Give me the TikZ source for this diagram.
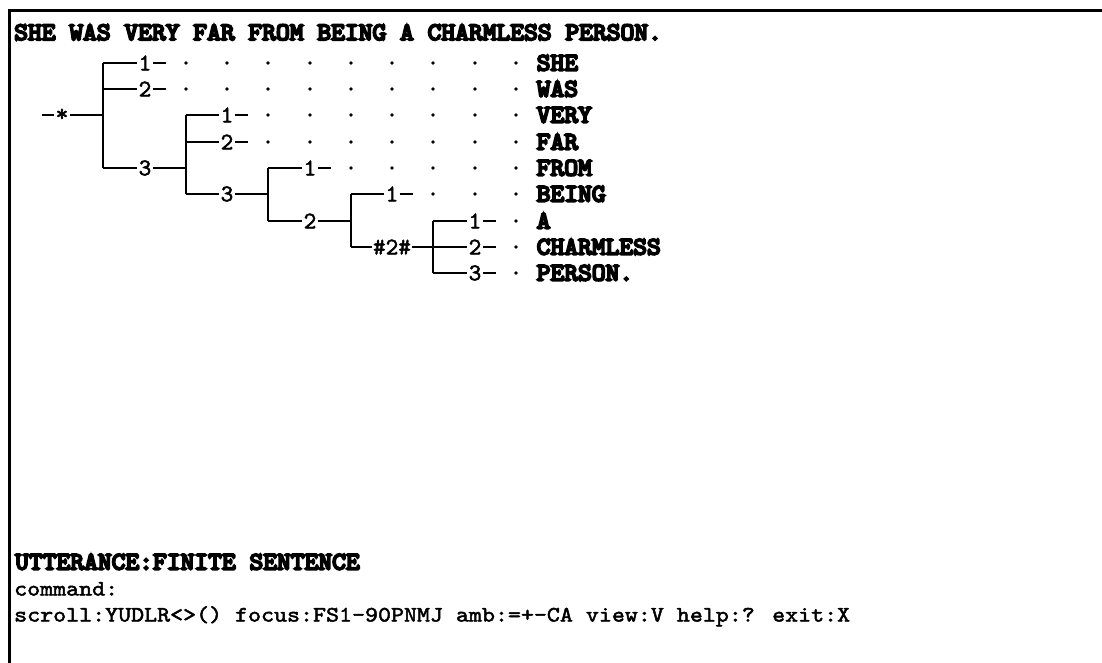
\documentclass[tikz,border=0pt]{standalone}
\usepackage{fontspec}
\newfontfamily\hdfont{lmmono10-regular.otf}[FakeStretch=1.05,FakeBold=8]
\newfontfamily\cmdfont{lmmono10-regular.otf}[FakeStretch=1.125,FakeBold=2.2]
\newfontfamily\lblfont{lmmono10-regular.otf}[FakeBold=2]
\pgfmathdeclarefunction{colx}{1}{\pgfmathparse{round(20.875+13.75*(#1))}}
\pgfmathdeclarefunction{coll}{1}{\pgfmathparse{14+13.75*(#1)}}
\pgfmathdeclarefunction{rowy}{1}{\pgfmathparse{round(62.7+26.3*((#1)-1))}}
\tikzset{
  hd/.style={inner sep=0pt, anchor=base west,
    font=\hdfont\fontsize{25}{28}\selectfont},
  cmd/.style={inner sep=0pt, anchor=base west,
    font=\cmdfont\fontsize{22}{26}\selectfont},
  lbl/.style={inner xsep=1.2pt, inner ysep=0pt,
    font=\lblfont\fontsize{24}{26}\selectfont},
  tl/.style={line width=2pt},
  frameline/.style={line width=2.8pt},
  dotm/.style={fill=black}
}
\begin{document}
\begin{tikzpicture}[x=1pt,y=-1pt]
\path[use as bounding box, fill=white] (0,0) rectangle (1102,663);
% frame
\coordinate (ftl) at (9.5,10.5);
\coordinate (ftr) at (1102,10.5);
\coordinate (fbl) at (9.5,663);
\draw[frameline] (ftr) -- (ftl) -- (fbl);

% title
\node[hd] (title) at ({coll(0)},40) {SHE WAS VERY FAR FROM BEING A CHARMLESS PERSON.};

% word column
\node[hd] (w1) at ({coll(38)},{rowy(1)+7.5}) {SHE};
\node[hd] (w2) at ({coll(38)},{rowy(2)+7.5}) {WAS};
\node[hd] (w3) at ({coll(38)},{rowy(3)+7.5}) {VERY};
\node[hd] (w4) at ({coll(38)},{rowy(4)+7.5}) {FAR};
\node[hd] (w5) at ({coll(38)},{rowy(5)+7.5}) {FROM};
\node[hd] (w6) at ({coll(38)},{rowy(6)+7.5}) {BEING};
\node[hd] (w7) at ({coll(38)},{rowy(7)+7.5}) {A};
\node[hd] (w8) at ({coll(38)},{rowy(8)+7.5}) {CHARMLESS};
\node[hd] (w9) at ({coll(38)},{rowy(9)+7.5}) {PERSON.};

% labels
\node[lbl] (s)   at ({colx(3)},{rowy(3)}) {*};
\node[lbl] (a1)  at ({colx(9)},{rowy(1)}) {1};
\node[lbl] (a2)  at ({colx(9)},{rowy(2)}) {2};
\node[lbl] (a3)  at ({colx(9)},{rowy(5)}) {3};
\node[lbl] (b1)  at ({colx(15)},{rowy(3)}) {1};
\node[lbl] (b2)  at ({colx(15)},{rowy(4)}) {2};
\node[lbl] (b3)  at ({colx(15)},{rowy(6)}) {3};
\node[lbl] (c1)  at ({colx(21)},{rowy(5)}) {1};
\node[lbl] (c2)  at ({colx(21)},{rowy(7)}) {2};
\node[lbl] (d1)  at ({colx(27)},{rowy(6)}) {1};
\node[lbl] (d2)  at ({colx(27)},{rowy(8)}) {\#2\#};
\node[lbl] (e1)  at ({colx(33)},{rowy(7)}) {1};
\node[lbl] (e2)  at ({colx(33)},{rowy(8)}) {2};
\node[lbl] (e3)  at ({colx(33)},{rowy(9)}) {3};

% verticals
\coordinate (v0t) at ({colx(6)},{rowy(1)});  \coordinate (v0b) at ({colx(6)},{rowy(5)});
\coordinate (v1t) at ({colx(12)},{rowy(3)}); \coordinate (v1b) at ({colx(12)},{rowy(6)});
\coordinate (v2t) at ({colx(18)},{rowy(5)}); \coordinate (v2b) at ({colx(18)},{rowy(7)});
\coordinate (v3t) at ({colx(24)},{rowy(6)}); \coordinate (v3b) at ({colx(24)},{rowy(8)});
\coordinate (v4t) at ({colx(30)},{rowy(7)}); \coordinate (v4b) at ({colx(30)},{rowy(9)});
\coordinate (sl) at ({coll(2)},{rowy(3)});
\draw[tl] (v0t) -- (v0b);
\draw[tl] (v1t) -- (v1b);
\draw[tl] (v2t) -- (v2b);
\draw[tl] (v3t) -- (v3b);
\draw[tl] (v4t) -- (v4b);

% level 0
\draw[tl] (sl) -- (s.west);
\draw[tl] (s.east) -- (s.east -| v0t);
\draw[tl] (v0t) -- (a1.west);
\draw[tl] (v0t |- a2) -- (a2.west);
\draw[tl] (v0b) -- (a3.west);
\draw[tl] (a1.east) -- ++(13,0);
\draw[tl] (a2.east) -- ++(13,0);
\draw[tl] (a3.east) -- (a3.east -| v1t);
% level 1
\draw[tl] (v1t) -- (b1.west);
\draw[tl] (v1t |- b2) -- (b2.west);
\draw[tl] (v1b) -- (b3.west);
\draw[tl] (b1.east) -- ++(13,0);
\draw[tl] (b2.east) -- ++(13,0);
\draw[tl] (b3.east) -- (b3.east -| v2t);
% level 2
\draw[tl] (v2t) -- (c1.west);
\draw[tl] (v2b) -- (c2.west);
\draw[tl] (c1.east) -- ++(13,0);
\draw[tl] (c2.east) -- (c2.east -| v3t);
% level 3
\draw[tl] (v3t) -- (d1.west);
\draw[tl] (v3b) -- (d2.west);
\draw[tl] (d1.east) -- ++(13,0);
% level 4
\draw[tl] (v4t) -- (e1.west);
\draw[tl] (d2.east) -- (e2.west);
\draw[tl] (v4b) -- (e3.west);
\draw[tl] (e1.east) -- ++(13,0);
\draw[tl] (e2.east) -- ++(13,0);
\draw[tl] (e3.east) -- ++(13,0);

% dots
\foreach \k in {12,15,...,36} {\fill[dotm] ({colx(\k)},{rowy(1)}) circle (1.9);
                                \fill[dotm] ({colx(\k)},{rowy(2)}) circle (1.9);}
\foreach \k in {18,21,...,36} {\fill[dotm] ({colx(\k)},{rowy(3)}) circle (1.9);
                                \fill[dotm] ({colx(\k)},{rowy(4)}) circle (1.9);}
\foreach \k in {24,27,...,36} {\fill[dotm] ({colx(\k)},{rowy(5)}) circle (1.9);}
\foreach \k in {30,33,36} {\fill[dotm] ({colx(\k)},{rowy(6)}) circle (1.9);}
\foreach \r in {7,8,9} {\fill[dotm] ({colx(36)},{rowy(\r)}) circle (1.9);}

% bottom lines
\node[hd] (utt) at (15,{562+7.5}) {UTTERANCE:FINITE SENTENCE};
\node[cmd] (cmdl) at (14,{589+6.5}) {command:};
\node[cmd] (scr) at (14,{615+6.5}) {scroll:YUDLR<>() focus:FS1-90PNMJ amb:=+-CA view:V help:? exit:X};
\end{tikzpicture}
\end{document}
